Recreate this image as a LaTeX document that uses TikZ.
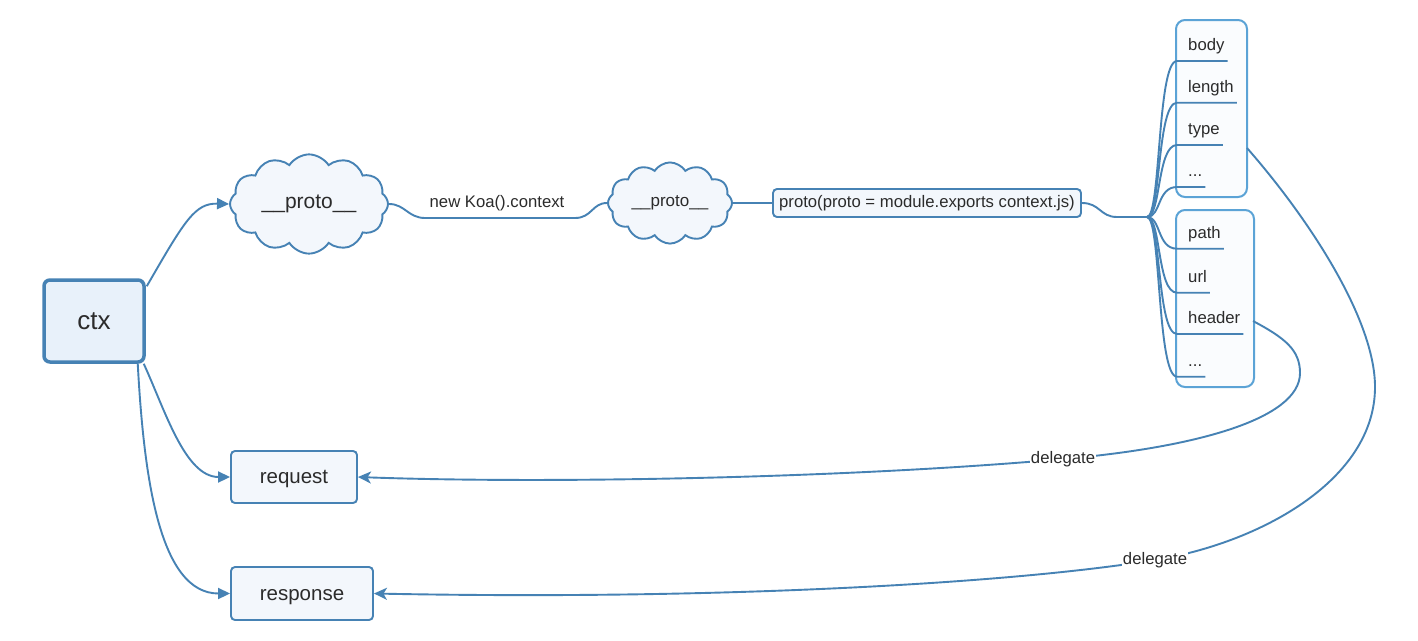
\documentclass[tikz,border=0pt]{standalone}
\usepackage{fontspec}
\setmainfont{Liberation Sans}
\usetikzlibrary{shapes.symbols,arrows.meta,calc}
\definecolor{lc}{HTML}{4682B4}
\definecolor{lbc}{HTML}{5BA3D6}
\definecolor{txt}{HTML}{2B2B2B}
\definecolor{ctxfill}{HTML}{E8F1FA}
\definecolor{boxfill}{HTML}{F3F7FC}
\definecolor{listfill}{HTML}{FAFCFE}
\begin{document}
\begin{tikzpicture}[x=1pt,y=-1pt,
  line/.style={draw=lc, line width=1.9pt},
  topic/.style={draw=lc, line width=1.9pt, fill=boxfill, rounded corners=4pt, text=txt, inner sep=0},
  cloudnode/.style={cloud, cloud puffs=12, cloud puff arc=115, draw=lc, line width=1.9pt, fill=boxfill, text=txt, inner sep=0},
  listbox/.style={draw=lbc, line width=2pt, fill=listfill, rounded corners=9pt, inner sep=0},
  item/.style={text=txt, font=\fontsize{16.7}{20}\selectfont, inner sep=0, anchor=base west},
  lbl/.style={text=txt, font=\fontsize{16.7}{20}\selectfont, inner sep=1pt, fill=white},
  arr/.style={-{Triangle[length=12pt,width=11pt]}},
  darr/.style={-{Stealth[length=13pt,width=12pt,inset=3.5pt]}},
]
\fill[white] (0,0) rectangle (1418,640);
\useasboundingbox (0,0) rectangle (1418,640);

% list boxes
\node[listbox, minimum width=71pt, minimum height=177pt] (boxA) at (1211.5,108.5) {};
\node[listbox, minimum width=78pt, minimum height=177pt] (boxB) at (1215,298.5) {};

% main nodes
\node[topic, line width=3.5pt, fill=ctxfill, rounded corners=6pt, minimum width=100pt, minimum height=82pt, font=\fontsize{26}{30}\selectfont] (ctx) at (94,321) {ctx};
\node[cloudnode, aspect=1.61, minimum width=158pt, minimum height=98pt, font=\fontsize{21}{25}\selectfont] (c1) at (309,204) {\_\_proto\_\_};
\node[cloudnode, aspect=1.59, minimum width=124pt, minimum height=78pt, font=\fontsize{17}{20}\selectfont] (c2) at (670,203) {\_\_proto\_\_};
\node[topic, minimum width=308pt, minimum height=28pt, font=\fontsize{16.7}{20}\selectfont] (proto) at (927,203) {proto(proto = module.exports context.js)};
\node[topic, minimum width=126pt, minimum height=52pt, text height=15pt, text depth=2pt, font=\fontsize{20.5}{24}\selectfont] (req) at (294,477) {request};
\node[topic, minimum width=142pt, minimum height=53pt, text height=15pt, text depth=2pt, font=\fontsize{20.5}{24}\selectfont] (res) at (302,593.5) {response};

% label on underline
\node[text=txt, font=\fontsize{16.7}{20}\selectfont, inner sep=0] (koa) at (497,203) {new Koa().context};
\coordinate (koaL) at (425,218);
\coordinate (koaR) at (575,218);

% ctx connectors
\draw[line, arr] ($(ctx.north east)+(1,8)$) .. controls (185,220) and (195,203) .. (c1.west);
\draw[line, arr] ($(ctx.south east)+(-2,0)$) .. controls (165,410) and (185,477) .. (req.west);
\draw[line, arr] ($(ctx.south east)+(-8,0)$) .. controls (144,480) and (160,593.5) .. (res.west);

% chain
\draw[line] (c1.east) .. controls (405,204) and (408,218) .. (koaL) -- (koaR) .. controls (592,218) and (592,203) .. (c2.west);
\draw[line] (c2.east) -- (proto.west);
\coordinate (junc) at (1147,217);
\draw[line] (proto.east) .. controls (1100,203) and (1100,217) .. (1117,217) -- (junc);

% items
\node[item] (i1) at (1188,50.5) {body};
\node[item] (i2) at (1188,92.2) {length};
\node[item] (i3) at (1188,134.5) {type};
\node[item] (i4) at (1188,176.5) {...};
\node[item] (i5) at (1188,238.2) {path};
\node[item] (i6) at (1188,282.2) {url};
\node[item] (i7) at (1188,323.5) {header};
\node[item] (i8) at (1188,366.2) {...};
\coordinate (u1) at (1177,61);
\coordinate (u2) at (1177,102.7);
\coordinate (u3) at (1177,145);
\coordinate (u4) at (1177,187);
\coordinate (u5) at (1177,248.7);
\coordinate (u6) at (1177,292.7);
\coordinate (u7) at (1177,334);
\coordinate (u8) at (1177,376.7);
\foreach \k in {1,...,8} {
  \draw[line] (junc) .. controls +(14,0) and +(-20,0) .. (u\k) -- ([xshift=3pt]i\k.east |- u\k);
}

% delegates
\coordinate (hs) at (1253,321);
\coordinate (ht) at (1300,373);
\node[lbl] (d1) at (1063,459) {delegate};
\draw[line, darr] (hs) .. controls (1285,338) and (1300,350) .. (ht)
  .. controls (1300,420) and (1191,448) .. (d1.center)
  .. controls (850,478) and (550,484) .. (req.east);
\node[lbl] at (d1) {delegate};

\coordinate (ts) at (1247,148);
\coordinate (tt) at (1375,387);
\node[lbl] (d2) at (1155,560) {delegate};
\draw[line, darr] (ts) .. controls (1310,220) and (1375,320) .. (tt)
  .. controls (1375,480) and (1260,543) .. (d2.center)
  .. controls (1000,585) and (700,600) .. (res.east);
\node[lbl] at (d2) {delegate};
\end{tikzpicture}
\end{document}
